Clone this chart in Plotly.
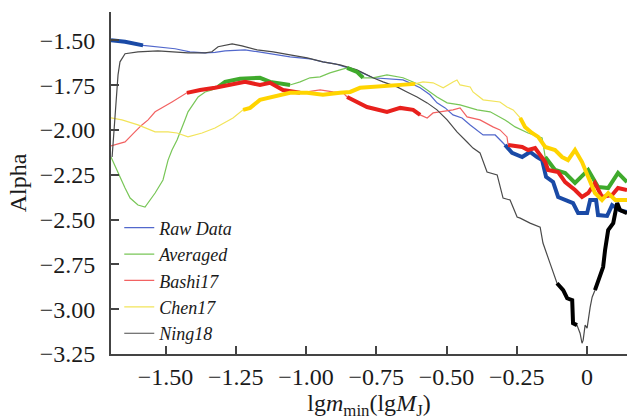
import plotly.graph_objects as go

# ---------------- data ----------------
raw_x = [-1.694, -1.644, -1.580, -1.520, -1.466, -1.413, -1.359, -1.324, -1.288, -1.217, -1.146, -1.057,
         -0.986, -0.940, -0.897, -0.854, -0.808, -0.762, -0.701, -0.655, -0.623, -0.594, -0.559, -0.534,
         -0.505, -0.477, -0.445, -0.416, -0.370, -0.327, -0.292, -0.267, -0.231, -0.203, -0.178, -0.160,
         -0.146, -0.121, -0.103, -0.078, -0.050, -0.032, 0.000, 0.011, 0.032, 0.039, 0.071, 0.089, 0.117, 0.142]
raw_y = [-1.500, -1.508, -1.528, -1.536, -1.547, -1.564, -1.570, -1.567, -1.559, -1.553, -1.570, -1.592,
         -1.603, -1.620, -1.631, -1.654, -1.676, -1.709, -1.715, -1.721, -1.743, -1.765, -1.804, -1.849,
         -1.877, -1.916, -1.933, -1.972, -2.028, -2.028, -2.084, -2.128, -2.151, -2.123, -2.151, -2.168,
         -2.262, -2.290, -2.374, -2.391, -2.408, -2.464, -2.464, -2.391, -2.391, -2.475, -2.480, -2.419, -2.447, -2.458]
raw_sig = [1, 1, 1, 0, 0, 0, 0, 0, 0, 0, 0, 0,
           0, 0, 0, 0, 0, 0, 0, 0, 0, 0, 0, 0,
           0, 0, 0, 0, 0, 0, 1, 1, 1, 1, 1, 1,
           1, 1, 1, 1, 1, 1, 1, 1, 1, 1, 1, 1, 1, 1]

avg_x = [-1.694, -1.662, -1.644, -1.626, -1.598, -1.573, -1.562, -1.537, -1.509, -1.491, -1.477, -1.459,
         -1.431, -1.420, -1.384, -1.359, -1.335, -1.313, -1.288, -1.235, -1.164, -1.128, -1.082, -1.057,
         -1.021, -0.986, -0.950, -0.915, -0.879, -0.854, -0.819, -0.797, -0.762, -0.712, -0.655, -0.594,
         -0.534, -0.498, -0.452, -0.391, -0.345, -0.310, -0.292, -0.256, -0.210, -0.160, -0.149, -0.114,
         -0.078, -0.043, 0.004, 0.039, 0.075, 0.110, 0.142]
avg_y = [-2.151, -2.268, -2.324, -2.380, -2.419, -2.430, -2.408, -2.352, -2.279, -2.168, -2.112, -2.056,
         -1.944, -1.899, -1.816, -1.788, -1.777, -1.760, -1.732, -1.715, -1.709, -1.732, -1.743, -1.749,
         -1.732, -1.709, -1.704, -1.682, -1.665, -1.654, -1.676, -1.709, -1.709, -1.693, -1.709, -1.749,
         -1.816, -1.849, -1.860, -1.888, -1.899, -1.927, -1.944, -1.983, -2.017, -2.045, -2.151, -2.223,
         -2.240, -2.296, -2.223, -2.318, -2.324, -2.240, -2.291]
avg_sig = [0, 0, 0, 0, 0, 0, 0, 0, 0, 0, 0, 0,
           0, 0, 0, 0, 0, 1, 1, 1, 1, 1, 1, 1,
           0, 0, 0, 0, 0, 1, 1, 1, 0, 0, 0, 0,
           0, 0, 0, 0, 0, 0, 0, 0, 0, 0, 1, 1,
           1, 1, 1, 1, 1, 1, 1]

bashi_x = [-1.694, -1.644, -1.609, -1.584, -1.562, -1.537, -1.477, -1.448, -1.424, -1.377, -1.324, -1.270,
           -1.217, -1.164, -1.128, -1.082, -1.021, -0.950, -0.904, -0.868, -0.854, -0.783, -0.712, -0.665,
           -0.619, -0.594, -0.569, -0.548, -0.477, -0.452, -0.427, -0.381, -0.335, -0.310, -0.285, -0.281,
           -0.231, -0.210, -0.185, -0.149, -0.139, -0.103, -0.078, -0.043, -0.018, 0.004, 0.028, 0.053,
           0.089, 0.110, 0.142]
bashi_y = [-2.089, -2.067, -2.011, -1.972, -1.944, -1.899, -1.844, -1.816, -1.793, -1.777, -1.765, -1.749,
           -1.732, -1.749, -1.737, -1.777, -1.793, -1.777, -1.788, -1.793, -1.816, -1.872, -1.899, -1.877,
           -1.888, -1.916, -1.933, -1.905, -1.888, -1.877, -1.927, -1.944, -1.983, -2.000, -2.039, -2.084,
           -2.095, -2.112, -2.101, -2.179, -2.223, -2.235, -2.291, -2.335, -2.374, -2.352, -2.296, -2.374,
           -2.363, -2.324, -2.335]
bashi_sig = [0, 0, 0, 0, 0, 0, 0, 0, 1, 1, 1, 1,
             1, 1, 1, 1, 1, 0, 0, 0, 1, 1, 1, 1,
             1, 1, 0, 0, 0, 0, 0, 0, 0, 0, 0, 1,
             1, 1, 1, 1, 1, 1, 1, 1, 1, 1, 1, 1,
             1, 1, 1]

chen_x = [-1.694, -1.655, -1.598, -1.537, -1.491, -1.459, -1.420, -1.370, -1.324, -1.288, -1.260, -1.224,
          -1.199, -1.164, -1.117, -1.057, -0.996, -0.940, -0.879, -0.843, -0.808, -0.762, -0.726, -0.630,
          -0.612, -0.584, -0.548, -0.512, -0.477, -0.463, -0.452, -0.416, -0.406, -0.370, -0.310, -0.285,
          -0.263, -0.238, -0.221, -0.196, -0.174, -0.149, -0.114, -0.089, -0.068, -0.043, -0.018, 0.004,
          0.028, 0.053, 0.075, 0.100, 0.142]
chen_y = [-1.933, -1.944, -1.972, -2.011, -2.011, -2.017, -2.039, -2.017, -1.989, -1.955, -1.933, -1.888,
          -1.877, -1.832, -1.816, -1.793, -1.793, -1.804, -1.793, -1.788, -1.765, -1.760, -1.760, -1.749,
          -1.743, -1.732, -1.737, -1.765, -1.732, -1.721, -1.749, -1.760, -1.788, -1.832, -1.844, -1.872,
          -1.888, -1.933, -1.983, -2.017, -2.039, -2.095, -2.112, -2.151, -2.168, -2.112, -2.179, -2.263,
          -2.352, -2.391, -2.352, -2.391, -2.391]
chen_sig = [0, 0, 0, 0, 0, 0, 0, 0, 0, 0, 0, 1,
            1, 1, 1, 1, 1, 1, 1, 1, 1, 1, 1, 1,
            1, 0, 0, 0, 0, 0, 0, 0, 0, 0, 0, 0,
            0, 1, 1, 1, 1, 1, 1, 1, 1, 1, 1, 1,
            1, 1, 1, 1, 1]

ning_x = [-1.690, -1.680, -1.673, -1.669, -1.662, -1.644, -1.598, -1.527, -1.420, -1.359, -1.335, -1.313,
          -1.263, -1.228, -1.174, -1.117, -1.057, -0.996, -0.940, -0.879, -0.819, -0.783, -0.762, -0.726,
          -0.676, -0.641, -0.605, -0.569, -0.534, -0.498, -0.463, -0.427, -0.406, -0.381, -0.356, -0.320,
          -0.299, -0.274, -0.249, -0.238, -0.203, -0.167, -0.157, -0.132, -0.107, -0.085, -0.071, -0.053,
          -0.050, -0.036, -0.025, -0.018, -0.014, -0.007, 0.000, 0.011, 0.018, 0.028, 0.039, 0.057,
          0.064, 0.075, 0.093, 0.107, 0.117, 0.142]
ning_y = [-2.151, -1.944, -1.821, -1.693, -1.620, -1.575, -1.564, -1.559, -1.570, -1.570, -1.564, -1.536,
          -1.520, -1.531, -1.553, -1.564, -1.581, -1.598, -1.620, -1.637, -1.665, -1.693, -1.709, -1.732,
          -1.760, -1.788, -1.816, -1.849, -1.888, -1.944, -2.011, -2.067, -2.101, -2.128, -2.235, -2.251,
          -2.380, -2.391, -2.486, -2.492, -2.520, -2.542, -2.631, -2.743, -2.855, -2.894, -2.939, -2.950,
          -3.078, -3.089, -3.134, -3.190, -3.173, -3.089, -3.106, -2.989, -2.933, -2.894, -2.838, -2.765,
          -2.670, -2.559, -2.520, -2.408, -2.447, -2.464]
ning_sig = [0, 0, 0, 0, 0, 0, 0, 0, 0, 0, 0, 0,
            0, 0, 0, 0, 0, 0, 0, 0, 0, 0, 0, 0,
            0, 0, 0, 0, 0, 0, 0, 0, 0, 0, 0, 0,
            0, 0, 0, 0, 0, 0, 0, 0, 1, 1, 1, 1,
            1, 1, 0, 0, 0, 0, 0, 0, 0, 1, 1, 1,
            1, 1, 1, 1, 1, 1]

names = ["Raw Data", "Averaged", "Bashi17", "Chen17", "Ning18"]
x_ticks = [-1.5, -1.25, -1.0, -0.75, -0.5, -0.25, 0.0]
x_tick_text = ["\u22121.50", "\u22121.25", "\u22121.00", "\u22120.75", "\u22120.50", "\u22120.25", "0"]
y_ticks = [-1.5, -1.75, -2.0, -2.25, -2.5, -2.75, -3.0, -3.25]
y_tick_text = ["\u22121.50", "\u22121.75", "\u22122.00", "\u22122.25", "\u22122.50", "\u22122.75", "\u22123.00", "\u22123.25"]

# ---------------- styles ----------------
series = [
    (raw_x, raw_y, raw_sig, "#5268cc", "#1a4aa6"),
    (avg_x, avg_y, avg_sig, "#78c657", "#3faa2c"),
    (bashi_x, bashi_y, bashi_sig, "#f26262", "#e8201c"),
    (chen_x, chen_y, chen_sig, "#f2e45a", "#ffd400"),
    (ning_x, ning_y, ning_sig, "#4a4a4a", "#000000"),
]

fig = go.Figure()
for name, (xs, ys, sig, thin_c, thick_c) in zip(names, series):
    fig.add_trace(go.Scatter(x=xs, y=ys, mode="lines", name=name, legendgroup=name,
                             line=dict(color=thin_c, width=1.2)))
for name, (xs, ys, sig, thin_c, thick_c) in zip(names, series):
    ty = [y if s else None for y, s in zip(ys, sig)]
    fig.add_trace(go.Scatter(x=xs, y=ty, mode="lines", name=name, legendgroup=name,
                             showlegend=False, connectgaps=False,
                             line=dict(color=thick_c, width=4)))

font_family = "Liberation Serif"
fig.update_layout(
    width=627, height=420,
    margin=dict(l=111, r=0, t=12, b=66),
    paper_bgcolor="white", plot_bgcolor="white",
    font=dict(family=font_family, size=24, color="#1a1a1a"),
    showlegend=True,
    legend=dict(x=0.016, y=0.215, xanchor="left", yanchor="middle",
                bgcolor="rgba(0,0,0,0)", font=dict(family=font_family, size=18, style="italic"),
                tracegroupgap=0),
    xaxis=dict(range=[-1.694, 0.142], tickvals=x_ticks, ticktext=x_tick_text,
               ticks="inside", ticklen=8, tickwidth=1.5, tickcolor="#444",
               showline=True, linecolor="#444", linewidth=2, showgrid=False, zeroline=False,
               ticklabelstandoff=0,
               title=dict(text="lg<i>m</i><sub>min</sub>(lg<i>M</i><sub>J</sub>)", standoff=10,
                          font=dict(size=24))),
    yaxis=dict(range=[-3.25, -1.342], tickvals=y_ticks, ticktext=y_tick_text,
               ticks="inside", ticklen=8, tickwidth=1.5, tickcolor="#444",
               showline=True, linecolor="#444", linewidth=2, showgrid=False, zeroline=False,
               ticklabelstandoff=9,
               title=dict(text="Alpha", standoff=6, font=dict(size=24))),
)

fig.write_html("out.html")
